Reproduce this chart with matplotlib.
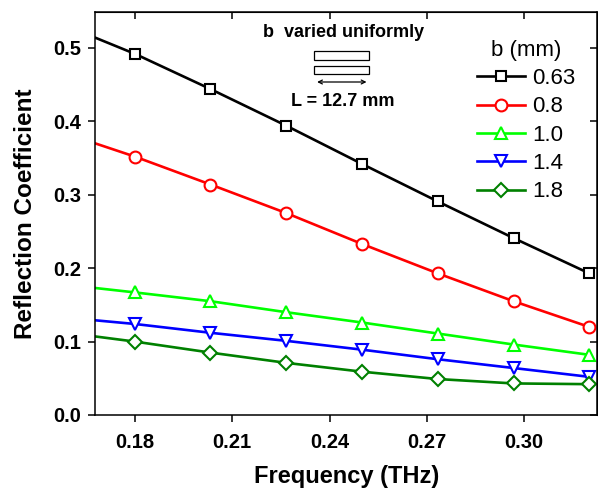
import matplotlib
matplotlib.use("Agg")
import matplotlib.pyplot as plt
from matplotlib.patches import Rectangle, FancyArrowPatch

plt.rcParams['font.family'] = ['Liberation Sans', 'DejaVu Sans']

freq = [0.1678, 0.180, 0.2033, 0.2267, 0.2500, 0.2733, 0.2967, 0.3200]
b_labels = ["0.63", "0.8", "1.0", "1.4", "1.8"]
r_063 = [0.514, 0.492, 0.444, 0.394, 0.342, 0.291, 0.241, 0.193]
r_08 = [0.370, 0.352, 0.314, 0.275, 0.233, 0.193, 0.155, 0.120]
r_10 = [0.173, 0.167, 0.155, 0.140, 0.126, 0.111, 0.096, 0.082]
r_14 = [0.129, 0.124, 0.112, 0.101, 0.089, 0.076, 0.064, 0.052]
r_18 = [0.107, 0.100, 0.085, 0.071, 0.059, 0.049, 0.043, 0.042]
series = [r_063, r_08, r_10, r_14, r_18]
colors = ["#000000", "#ff0000", "#00ff00", "#0000ff", "#008000"]
markers = ["s", "o", "^", "v", "D"]
msizes = [7.5, 8.5, 9, 9, 7.5]

xticks = [0.18, 0.21, 0.24, 0.27, 0.30]
yticks = [0.0, 0.1, 0.2, 0.3, 0.4, 0.5]

fig = plt.figure(figsize=(5.98, 4.88), dpi=100)
ax = fig.add_axes([95.3/598, 1-415/488, 502/598, 403/488])

for vals, c, m, ms, lab in zip(series, colors, markers, msizes, b_labels):
    ax.plot(freq, vals, color=c, lw=1.9, marker=m, ms=ms, mfc="white",
            mec=c, mew=1.5, markevery=list(range(1, len(freq))), label=lab,
            clip_on=True)

ax.set_xlim(0.1678, 0.3225)
ax.set_ylim(0.0, 0.549)
ax.set_xticks(xticks)
ax.set_xticklabels([f"{t:.2f}" for t in xticks])
ax.set_yticks(yticks)
ax.set_yticklabels([f"{t:.1f}" for t in yticks])

for sp in ax.spines.values():
    sp.set_linewidth(1.1)
ax.tick_params(axis='both', which='major', direction='out', length=5, width=1.1,
               labelsize=14.5, pad=5)
ax.tick_params(axis='x', pad=8)
for lbl in ax.get_xticklabels() + ax.get_yticklabels():
    lbl.set_fontweight('bold')

# mirrored inward ticks on top and right
axt = ax.secondary_xaxis('top')
axt.set_xticks(xticks)
axt.tick_params(direction='in', length=5, width=1.1, labeltop=False)
axr = ax.secondary_yaxis('right')
axr.set_yticks(yticks)
axr.tick_params(direction='in', length=5, width=1.1, labelright=False)

ax.set_xlabel("Frequency (THz)", fontsize=17, fontweight='bold', labelpad=9)
ax.set_ylabel("Reflection Coefficient", fontsize=17.5, fontweight='bold', labelpad=12)

leg = ax.legend(title="b (mm)", loc='upper left', bbox_to_anchor=(0.730, 0.97),
                frameon=False, fontsize=16, title_fontsize=16,
                handlelength=2.15, handletextpad=0.3, labelspacing=0.33,
                borderpad=0.2)

# inset sketch
ax.text(0.4944, 0.9479, "b  varied uniformly", transform=ax.transAxes,
        ha='center', va='center', fontsize=13, fontweight='bold')
ax.add_patch(Rectangle((0.4363, 0.8809), 0.1095, 0.0223, transform=ax.transAxes,
                       fill=False, lw=0.9, ec="black"))
ax.add_patch(Rectangle((0.4363, 0.8454), 0.1095, 0.0213, transform=ax.transAxes,
                       fill=False, lw=0.9, ec="black"))
ax.add_patch(FancyArrowPatch((0.4363, 0.8263), (0.5458, 0.8263), transform=ax.transAxes,
                             arrowstyle='<->', mutation_scale=7, lw=0.9, color="black"))
ax.text(0.4930, 0.7774, "L = 12.7 mm", transform=ax.transAxes,
        ha='center', va='center', fontsize=13, fontweight='bold')

fig.savefig("out.png", dpi=100)
